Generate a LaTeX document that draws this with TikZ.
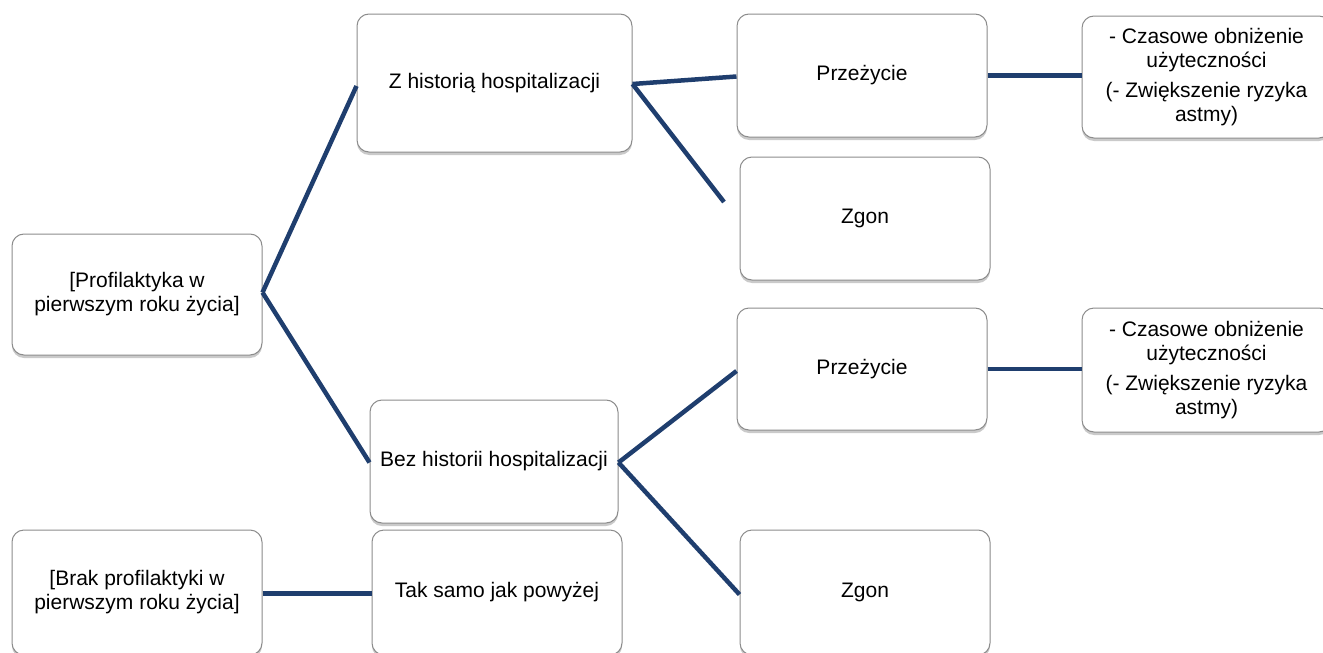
\documentclass[tikz,border=0pt]{standalone}
\usepackage{fontspec}
\setmainfont{Liberation Sans}
\usetikzlibrary{shadows}
\definecolor{navy}{HTML}{1F3E6E}
\definecolor{boxborder}{HTML}{8C8C8C}
\tikzset{
  box/.style={draw=boxborder, line width=1pt, rounded corners=12pt, fill=white,
    align=center, font=\fontsize{21}{24}\selectfont, inner sep=2pt,
    drop shadow={shadow xshift=0pt, shadow yshift=-3pt, opacity=0.35, fill=black!60}},
  link/.style={draw=navy, line width=4.5pt}
}
\newcommand{\bx}[6]{% name, x1, y1, x2, y2, text
  \node[box, minimum width={#4-#2}, minimum height={#5-#3}] (#1) at ({(#2+#4)/2},{(#3+#5)/2}) {#6};}
\begin{document}
\begin{tikzpicture}[x=1pt, y=-1pt]
\useasboundingbox (0,0) rectangle (1323,653);
\bx{prof}{12}{234}{262}{355}{[Profilaktyka w\\pierwszym roku życia]}
\bx{zhist}{357}{14}{632}{152}{Z historią hospitalizacji}
\bx{przA}{737}{14}{987}{137}{Przeżycie}
\bx{outA}{1082}{16}{1331}{138}{- Czasowe obniżenie\\użyteczności\\[6pt](- Zwiększenie ryzyka\\astmy)}
\bx{zgonA}{740}{157}{990}{280}{Zgon}
\bx{przB}{737}{308}{987}{430}{Przeżycie}
\bx{outB}{1082}{308}{1331}{432}{- Czasowe obniżenie\\użyteczności\\[6pt](- Zwiększenie ryzyka\\astmy)}
\bx{bez}{370}{400}{618}{523}{Bez historii hospitalizacji}
\bx{zgonB}{740}{530}{990}{655}{Zgon}
\bx{brak}{12}{530}{262}{655}{[Brak profilaktyki w\\pierwszym roku życia]}
\bx{tak}{372}{530}{622}{655}{Tak samo jak powyżej}
\coordinate (zfree) at (724,202);
\draw[link] ([yshift=2pt]prof.east) -- ([yshift=-3pt]zhist.west);
\draw[link] ([yshift=2pt]prof.east) -- ([yshift=-1pt]bez.west);
\draw[link] ([yshift=-1pt]zhist.east) -- ([yshift=-1pt]przA.west);
\draw[link] ([yshift=-1pt]zhist.east) -- (zfree);
\draw[link] (przA.east) -- (outA.west |- przA.east);
\draw[link] ([yshift=-1pt]bez.east) -- ([yshift=-2pt]przB.west);
\draw[link] ([yshift=-1pt]bez.east) -- ([yshift=-2pt]zgonB.west);
\draw[link] (przB.east) -- (outB.west |- przB.east);
\draw[link] ([yshift=-1pt]brak.east) -- ([yshift=-1pt]tak.west);
\end{tikzpicture}
\end{document}
